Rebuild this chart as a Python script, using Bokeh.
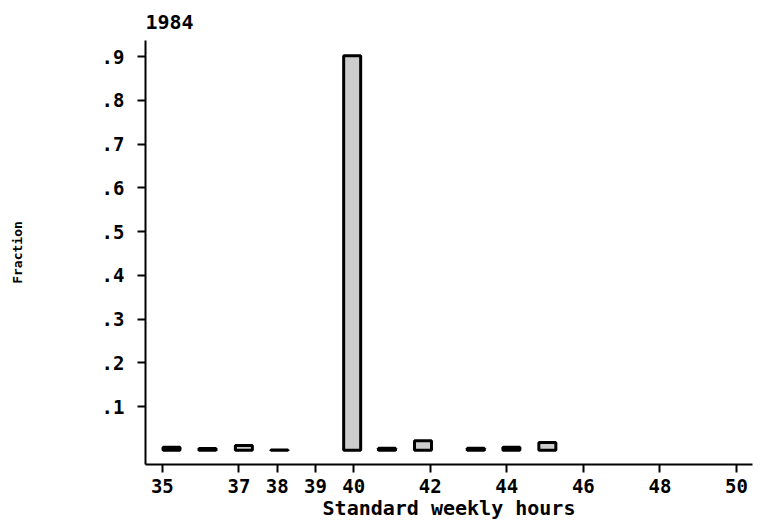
from bokeh.plotting import figure
from bokeh.models import FixedTicker, Range1d, ColumnDataSource
from bokeh.embed import file_html
from bokeh.resources import INLINE

# ---- data ----
title_text = "1984"
bin_centers = [35.24, 36.18, 37.13, 38.06, 39.96, 40.87, 41.81, 43.19, 44.12, 45.06]
fractions = [0.007, 0.004, 0.011, 0.001, 0.902, 0.005, 0.022, 0.005, 0.007, 0.018]
x_ticks = [35, 37, 38, 39, 40, 42, 44, 46, 48, 50]
y_ticks = [0.1, 0.2, 0.3, 0.4, 0.5, 0.6, 0.7, 0.8, 0.9]
y_tick_labels = [".1", ".2", ".3", ".4", ".5", ".6", ".7", ".8", ".9"]
x_label = "Standard weekly hours"
y_label = "Fraction"

FONT = "DejaVu Sans Mono"

p = figure(width=756, height=522, output_backend="svg", toolbar_location=None,
           x_range=Range1d(34.56, 50.42), y_range=Range1d(-0.0323, 0.937),
           min_border_left=145, min_border_right=4, min_border_top=40,
           min_border_bottom=51, title=title_text)

src = ColumnDataSource(dict(x=bin_centers, top=fractions))
p.vbar(x="x", top="top", bottom=0, width=0.444, source=src,
       fill_color="#cccccc", line_color="black", line_width=3)

p.title.text_font = FONT
p.title.text_font_size = "20px"
p.title.text_font_style = "bold"
p.title.text_color = "black"
p.title.align = "left"
p.title.offset = 0
p.title.standoff = 20
p.title.vertical_align = "top"

p.grid.visible = False
p.outline_line_color = None
p.background_fill_color = "white"
p.border_fill_color = "white"

for ax in (p.xaxis[0], p.yaxis[0]):
    ax.axis_line_width = 2
    ax.axis_line_color = "black"
    ax.major_tick_line_width = 2
    ax.major_tick_line_color = "black"
    ax.major_tick_in = 0
    ax.major_tick_out = 8
    ax.minor_tick_line_color = None
    ax.major_label_text_font = FONT
    ax.major_label_text_font_size = "19px"
    ax.major_label_text_font_style = "bold"
    ax.major_label_text_color = "black"
    ax.axis_label_text_font = FONT
    ax.axis_label_text_font_style = "bold"
    ax.axis_label_text_color = "black"

p.xaxis[0].ticker = FixedTicker(ticks=x_ticks)
p.xaxis[0].axis_label = x_label
p.xaxis[0].axis_label_text_font_size = "20px"
p.xaxis[0].axis_label_standoff = 0
p.xaxis[0].major_label_standoff = 6

p.yaxis[0].ticker = FixedTicker(ticks=y_ticks)
p.yaxis[0].major_label_overrides = dict(zip(y_ticks, y_tick_labels))
p.yaxis[0].major_label_orientation = "horizontal"
p.yaxis[0].major_label_standoff = 13
p.yaxis[0].axis_label = y_label
p.yaxis[0].axis_label_text_font_size = "13px"
p.yaxis[0].axis_label_standoff = 74

open("out.html", "w").write(file_html(p, INLINE))
